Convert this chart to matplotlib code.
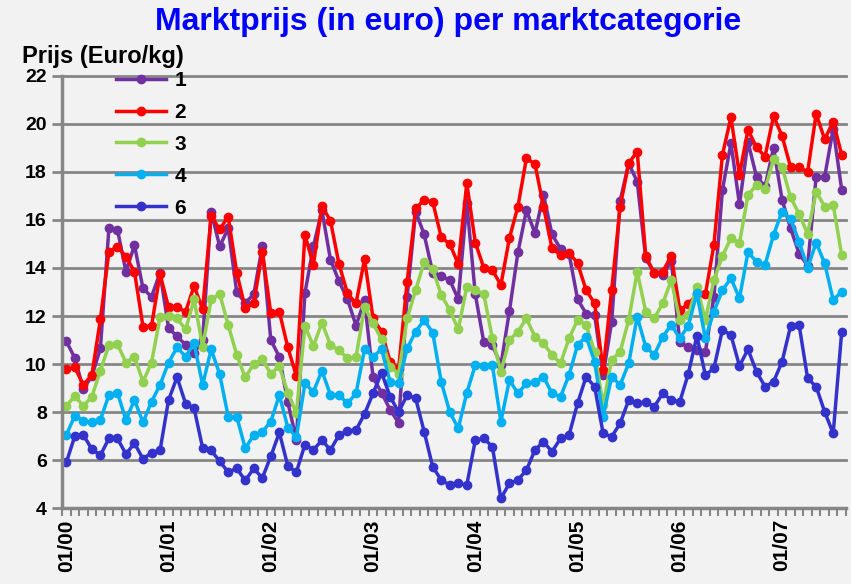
import matplotlib.pyplot as plt
import numpy as np

plt.rcParams['font.family'] = ['Liberation Sans', 'DejaVu Sans']

# Monthly market prices (Euro/kg), 01/00 .. 08/07
cat1 = [10.95, 10.25, 8.95, 9.5, 10.65, 15.65, 15.6, 13.85, 14.95, 13.15, 12.8, 13.8,
        11.5, 11.15, 10.8, 10.45, 11.0, 16.35, 14.9, 15.65, 13.0, 12.55, 12.9, 14.9,
        11.0, 10.3, 8.4, 6.85, 12.95, 14.9, 16.4, 14.35, 13.45, 12.7, 11.6, 12.65,
        9.45, 8.8, 8.1, 7.55, 12.8, 16.35, 15.4, 13.8, 13.65, 13.5, 12.7, 16.7,
        12.9, 10.9, 10.8, 9.95, 12.2, 14.65, 16.4, 15.45, 17.05, 15.4, 14.8, 14.6,
        12.7, 12.1, 12.05, 9.55, 11.75, 16.8, 18.35, 17.6, 14.4, 13.8, 13.7, 14.3,
        10.9, 10.7, 10.6, 10.5, 12.8, 17.25, 19.2, 16.65, 19.25, 17.8, 17.4, 19.0,
        16.85, 15.65, 14.6, 14.1, 17.8, 17.8, 19.8, 17.25]
cat2 = [9.78, 9.86, 9.13, 9.54, 11.86, 14.68, 14.89, 14.47, 13.85, 11.56, 11.58, 13.75,
        12.36, 12.36, 12.18, 13.25, 12.28, 16.17, 15.61, 16.14, 13.81, 12.32, 12.53, 14.68,
        12.11, 12.18, 10.69, 9.5, 15.38, 14.13, 16.58, 15.97, 14.17, 12.94, 12.53, 14.36,
        11.9, 11.35, 10.1, 9.8, 13.43, 16.49, 16.83, 16.76, 15.28, 15.0, 14.17, 17.53,
        15.06, 14.0, 13.92, 13.29, 15.24, 16.56, 18.57, 18.33, 16.56, 14.82, 14.54, 14.64,
        14.2, 13.08, 12.53, 9.75, 13.08, 16.56, 18.36, 18.85, 14.5, 13.78, 13.85, 14.5,
        12.25, 12.5, 12.9, 12.9, 14.96, 18.71, 20.28, 17.88, 19.75, 19.03, 18.64, 20.33,
        19.5, 18.2, 18.2, 18.0, 20.42, 19.36, 20.1, 18.71]
cat3 = [8.25, 8.67, 8.25, 8.64, 9.72, 10.79, 10.83, 10.06, 10.31, 9.26, 10.06, 11.94,
        12.0, 11.9, 11.44, 12.69, 10.72, 12.69, 12.92, 11.63, 10.38, 9.44, 10.0, 10.19,
        9.6, 9.9, 8.8, 7.95, 11.58, 10.75, 11.72, 10.79, 10.58, 10.24, 10.28, 12.39,
        11.69, 11.03, 9.89, 9.6, 11.9, 13.08, 14.26, 13.94, 12.88, 12.25, 11.44, 13.22,
        13.08, 12.9, 11.07, 9.68, 11.0, 11.35, 11.9, 11.14, 10.86, 10.38, 10.03, 11.07,
        11.83, 11.63, 10.51, 8.3, 10.17, 10.51, 11.83, 13.85, 12.18, 11.9, 12.53, 13.5,
        11.83, 12.04, 13.22, 11.83, 13.5, 14.5, 15.24, 15.03, 17.04, 17.46, 17.28, 18.53,
        18.2, 16.94, 16.25, 15.42, 17.18, 16.56, 16.63, 14.54]
cat4 = [7.04, 7.85, 7.64, 7.57, 7.67, 8.71, 8.81, 7.67, 8.5, 7.57, 8.43, 9.13,
        10.06, 10.69, 10.31, 10.86, 9.13, 10.61, 9.58, 7.81, 7.81, 6.49, 7.04, 7.18,
        7.6, 8.71, 7.35, 6.95, 9.19, 8.85, 9.72, 8.71, 8.71, 8.36, 8.78, 10.61,
        10.31, 10.61, 9.26, 9.19, 10.65, 11.35, 11.83, 11.31, 9.26, 8.0, 7.32, 8.8,
        9.96, 9.9, 9.96, 7.6, 9.33, 8.78, 9.19, 9.26, 9.47, 8.78, 8.64, 9.54,
        10.79, 11.14, 10.1, 7.81, 9.47, 9.13, 10.03, 11.97, 10.72, 10.38, 11.14, 11.63,
        11.07, 11.6, 12.94, 11.07, 12.18, 13.08, 13.57, 12.74, 14.66, 14.26, 14.13, 15.38,
        16.35, 16.03, 15.1, 14.0, 15.06, 14.19, 12.67, 13.01]
cat5 = [5.9, 7.0, 7.05, 6.45, 6.2, 6.9, 6.9, 6.25, 6.7, 6.05, 6.3, 6.4,
        8.5, 9.45, 8.35, 8.15, 6.5, 6.4, 5.95, 5.5, 5.65, 5.15, 5.65, 5.25,
        6.15, 7.15, 5.75, 5.5, 6.64, 6.42, 6.83, 6.42, 7.04, 7.22, 7.25, 7.92,
        8.78, 9.64, 8.64, 8.0, 8.71, 8.57, 7.18, 5.72, 5.17, 4.96, 5.03, 4.96,
        6.83, 6.9, 6.56, 4.4, 5.03, 5.17, 5.58, 6.42, 6.76, 6.35, 6.9, 7.04,
        8.36, 9.47, 9.06, 7.11, 6.97, 7.53, 8.5, 8.36, 8.43, 8.22, 8.78, 8.5,
        8.43, 9.6, 11.17, 9.54, 9.82, 11.42, 11.21, 9.92, 10.61, 9.68, 9.06, 9.26,
        10.1, 11.58, 11.63, 9.4, 9.06, 8.01, 7.11, 11.35]

series = [cat1, cat2, cat3, cat4, cat5]
names = ["1", "2", "3", "4", "6"]
colors = ["#7030a0", "#ff0000", "#92d050", "#00b0f0", "#3333cc"]
year_labels = ["01/00", "01/01", "01/02", "01/03", "01/04", "01/05", "01/06", "01/07"]

bg = "#f2f2f2"
grey = "#868686"

fig = plt.figure(figsize=(8.51, 5.84), dpi=100, facecolor=bg)
ax = fig.add_axes([0.0729, 0.130, 0.9212, 0.740], facecolor=bg)

x = np.arange(len(cat1))
for vals, name, col in zip(series, names, colors):
    ax.plot(x, vals, color=col, lw=2.5, marker="o", ms=6, label=name)

ax.set_xlim(-0.5, len(cat1) - 0.5)
ax.set_ylim(4, 22)
ax.set_yticks(np.arange(4, 23, 2))
ax.set_xticks(np.arange(0, len(cat1), 12))
ax.set_xticklabels(year_labels, rotation=90, fontsize=15, fontweight="bold")
ax.set_xticks(np.arange(-0.5, len(cat1), 1), minor=True)
ax.tick_params(axis="x", which="major", length=0, pad=8)
ax.tick_params(axis="x", which="minor", length=6, width=1.5, color=grey)
ax.tick_params(axis="y", length=7, width=2, color=grey, labelsize=14, pad=4)
for lbl in ax.get_yticklabels():
    lbl.set_fontweight("bold")

ax.grid(axis="y", color=grey, lw=2)
for gl in ax.get_ygridlines():
    gl.set_clip_on(False)
ax.set_axisbelow(True)
for s in ["top", "right"]:
    ax.spines[s].set_visible(False)
ax.spines["left"].set_color(grey)
ax.spines["left"].set_linewidth(2.5)
ax.spines["bottom"].set_color(grey)
ax.spines["bottom"].set_linewidth(2.5)

leg = ax.legend(loc="upper left", bbox_to_anchor=(0.045, 1.055), frameon=False,
                prop={"weight": "bold", "size": 15}, handlelength=2.4,
                labelspacing=0.62, handletextpad=0.4)

fig.text(0.527, 0.962, "Marktprijs (in euro) per marktcategorie", ha="center", va="center",
         color="#0000ff", fontsize=23, fontweight="bold")
fig.text(0.026, 0.903, "Prijs (Euro/kg)", ha="left", va="center", fontsize=17, fontweight="bold")

fig.savefig("out.png", dpi=100, facecolor=bg)
